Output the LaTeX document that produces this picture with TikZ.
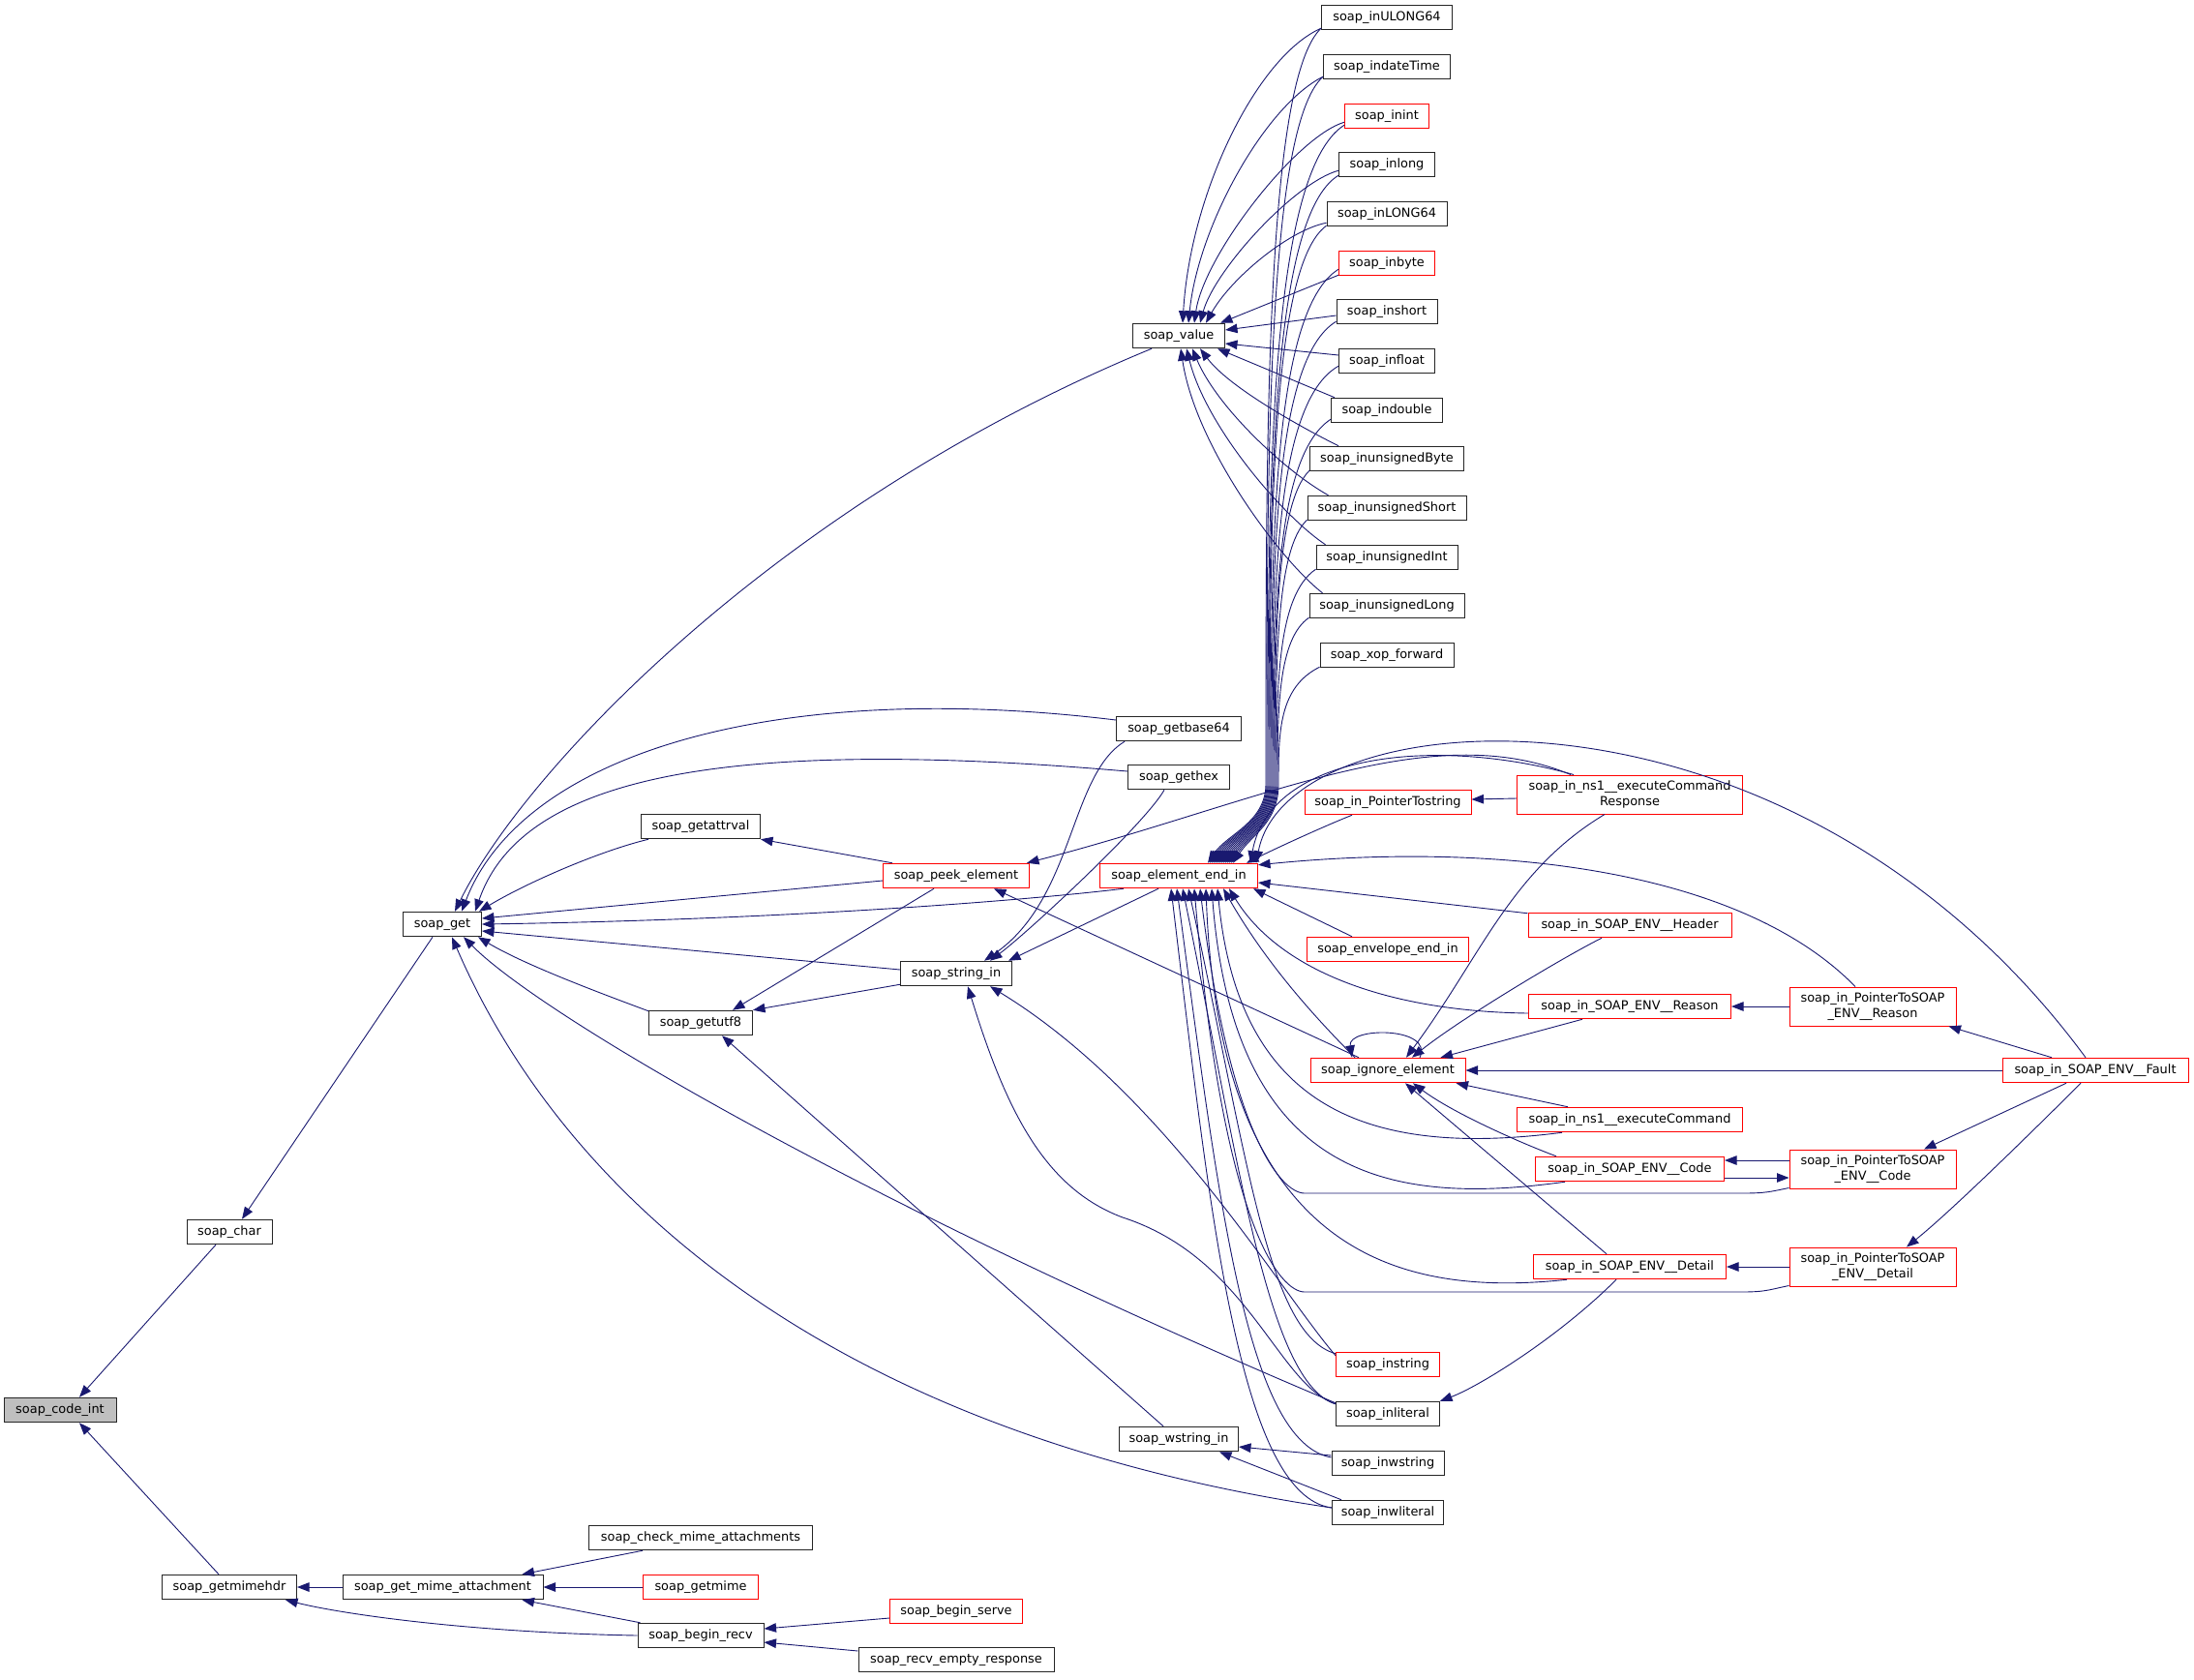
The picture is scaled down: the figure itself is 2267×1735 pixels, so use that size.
\documentclass[tikz,border=0pt]{standalone}
\usepackage{fontspec}
\setmainfont{DejaVu Sans}
\usetikzlibrary{arrows.meta}
\definecolor{mb}{HTML}{191970}
\definecolor{rootgray}{HTML}{BFBFBF}
\begin{document}
\begin{tikzpicture}[x=1pt,y=-1pt,
  bx/.style={draw=black!85,line width=1pt,fill=white,rectangle,inner sep=0pt,minimum height=25.5pt,font=\fontsize{12.9pt}{15.3pt}\selectfont,align=center},
  rx/.style={bx,draw=red},
  rootbx/.style={bx,fill=rootgray},
  ed/.style={draw=mb,line width=0.9pt,<-,>={Triangle[length=12.5pt,width=9.5pt]}}]
\fill[white] (0,0) rectangle (2267,1735);
\useasboundingbox (0,0) rectangle (2267,1735);
% nodes
\node[rootbx,minimum width=116pt] (codeint) at (62,1457) {soap\_code\_int};
\node[bx,minimum width=88pt] (char) at (237,1273) {soap\_char};
\node[bx,minimum width=139pt] (getmimehdr) at (237,1640) {soap\_getmimehdr};
\node[bx,minimum width=207pt] (getmimeatt) at (457.5,1640) {soap\_get\_mime\_attachment};
\node[bx,minimum width=231pt] (checkmime) at (724,1589) {soap\_check\_mime\_attachments};
\node[rx,minimum width=119pt] (getmime) at (724,1640) {soap\_getmime};
\node[bx,minimum width=130pt] (beginrecv) at (724,1690) {soap\_begin\_recv};
\node[rx,minimum width=137pt] (beginserve) at (988,1665) {soap\_begin\_serve};
\node[bx,minimum width=202pt] (recvempty) at (988,1715) {soap\_recv\_empty\_response};
\node[bx,minimum width=81pt] (get) at (457,955) {soap\_get};
\node[bx,minimum width=123pt] (getattrval) at (724,854) {soap\_getattrval};
\node[bx,minimum width=107pt] (getutf8) at (724,1057) {soap\_getutf8};
\node[rx,minimum width=151pt] (peek) at (988,905) {soap\_peek\_element};
\node[rx,minimum width=163pt] (eei) at (1218,905) {soap\_element\_end\_in};
\node[bx,minimum width=105pt] (gethex) at (1218,803) {soap\_gethex};
\node[bx,minimum width=115pt] (stringin) at (988,1006) {soap\_string\_in};
\node[bx,minimum width=129pt] (getbase64) at (1218,753) {soap\_getbase64};
\node[bx,minimum width=95pt] (value) at (1218,347) {soap\_value};
\node[bx,minimum width=135pt] (inULONG64) at (1433,18) {soap\_inULONG64};
\node[bx,minimum width=131pt] (indateTime) at (1433,69) {soap\_indateTime};
\node[rx,minimum width=87pt] (inint) at (1433,120) {soap\_inint};
\node[bx,minimum width=99pt] (inlong) at (1433,170) {soap\_inlong};
\node[bx,minimum width=124pt] (inLONG64) at (1433,221) {soap\_inLONG64};
\node[rx,minimum width=99pt] (inbyte) at (1433,272) {soap\_inbyte};
\node[bx,minimum width=104pt] (inshort) at (1433,322) {soap\_inshort};
\node[bx,minimum width=99pt] (infloat) at (1433,373) {soap\_infloat};
\node[bx,minimum width=115pt] (indouble) at (1433,424) {soap\_indouble};
\node[bx,minimum width=159pt] (inuByte) at (1433,474) {soap\_inunsignedByte};
\node[bx,minimum width=164pt] (inuShort) at (1433,525) {soap\_inunsignedShort};
\node[bx,minimum width=146pt] (inuInt) at (1433,576) {soap\_inunsignedInt};
\node[bx,minimum width=160pt] (inuLong) at (1433,626) {soap\_inunsignedLong};
\node[bx,minimum width=138pt] (xop) at (1433,677) {soap\_xop\_forward};
\node[rx,minimum width=172pt] (ptrstring) at (1434,829) {soap\_in\_PointerTostring};
\node[rx,minimum width=233pt,minimum height=40pt] (ns1resp) at (1684,821) {soap\_in\_ns1\_\_executeCommand\\Response};
\node[rx,minimum width=210pt] (header) at (1684,956) {soap\_in\_SOAP\_ENV\_\_Header};
\node[rx,minimum width=167pt] (envend) at (1434,981) {soap\_envelope\_end\_in};
\node[rx,minimum width=209pt] (reason) at (1684,1040) {soap\_in\_SOAP\_ENV\_\_Reason};
\node[rx,minimum width=160pt] (ignore) at (1434,1106) {soap\_ignore\_element};
\node[rx,minimum width=233pt] (ns1cmd) at (1684,1157) {soap\_in\_ns1\_\_executeCommand};
\node[rx,minimum width=195pt] (code) at (1684,1208) {soap\_in\_SOAP\_ENV\_\_Code};
\node[rx,minimum width=199pt] (detail) at (1684,1309) {soap\_in\_SOAP\_ENV\_\_Detail};
\node[rx,minimum width=107pt] (instring) at (1434,1410) {soap\_instring};
\node[bx,minimum width=107pt] (inliteral) at (1434,1461) {soap\_inliteral};
\node[bx,minimum width=123pt] (wstringin) at (1218,1487) {soap\_wstring\_in};
\node[bx,minimum width=116pt] (inwstring) at (1434,1512) {soap\_inwstring};
\node[bx,minimum width=115pt] (inwliteral) at (1434,1563) {soap\_inwliteral};
\node[rx,minimum width=172pt,minimum height=40pt] (pReason) at (1935,1040) {soap\_in\_PointerToSOAP\\\_ENV\_\_Reason};
\node[rx,minimum width=192pt] (fault) at (2165,1106) {soap\_in\_SOAP\_ENV\_\_Fault};
\node[rx,minimum width=172pt,minimum height=40pt] (pCode) at (1935,1208) {soap\_in\_PointerToSOAP\\\_ENV\_\_Code};
\node[rx,minimum width=172pt,minimum height=40pt] (pDetail) at (1935,1309) {soap\_in\_PointerToSOAP\\\_ENV\_\_Detail};
% left part
\draw[ed] ([xshift=20pt]codeint.north) -- ([xshift=-14pt]char.south);
\draw[ed] ([xshift=20pt]codeint.south) -- ([xshift=-11pt]getmimehdr.north);
\draw[ed] ([xshift=13pt]char.north) -- ([xshift=-10pt]get.south);
\draw[ed] (getmimehdr.east) -- (getmimeatt.west);
\draw[ed] ([xshift=-12pt]getmimehdr.south east) .. controls +(60,15) and +(-170,-3) .. (beginrecv.west);
\draw[ed] ([xshift=-22pt]getmimeatt.north east) -- ([xshift=-60pt]checkmime.south);
\draw[ed] (getmimeatt.east) -- (getmime.west);
\draw[ed] ([xshift=-22pt]getmimeatt.south east) -- ([xshift=3pt]beginrecv.north west);
\draw[ed] ([yshift=7pt]beginrecv.east) -- ([yshift=-7pt]beginserve.west);
\draw[ed] ([yshift=-7pt]beginrecv.east) -- ([yshift=9pt]recvempty.west);
% soap_get callers
\draw[ed] ([xshift=13pt]get.north) .. controls +(70,-142.5) and +(-390,160.5) .. ([xshift=-28pt]value.south);
\draw[ed] ([xshift=20pt]get.north) .. controls +(63,-162.5) and +(-354,-43) .. ([yshift=9pt]getbase64.west);
\draw[ed] ([xshift=-7pt]get.north east) .. controls +(49,-142.5) and +(-406,-35) .. ([yshift=6pt]gethex.west);
\draw[ed] ([xshift=-3pt]get.north east) .. controls +(50,-30) and +(-50,12) .. ([xshift=8pt]getattrval.south west);
\draw[ed] ([yshift=6pt]get.east) -- ([yshift=-5pt]peek.west);
\draw[ed] (get.east) .. controls +(320,-5) and +(-100,12) .. ([xshift=25pt]eei.south west);
\draw[ed] ([yshift=-7pt]get.east) -- ([yshift=4pt]stringin.west);
\draw[ed] ([xshift=-4pt]get.south east) .. controls +(50,30) and +(-40,-15) .. ([yshift=-1pt]getutf8.north west);
\draw[ed] ([xshift=22pt]get.south) .. controls +(81,82) and +(-480,-202) .. ([yshift=-2pt]inliteral.north west);
\draw[ed] ([xshift=10pt]get.south) .. controls +(113,262) and +(-526,-78) .. ([yshift=5pt]inwliteral.west);
% getutf8, getattrval
\draw[ed] ([xshift=33pt]getutf8.north) -- ([xshift=-23pt]peek.south);
\draw[ed] (getutf8.north east) -- ([yshift=2pt]stringin.south west);
\draw[ed] ([xshift=22pt]getutf8.south) -- ([xshift=-16pt]wstringin.north);
\draw[ed] (getattrval.south east) -- ([xshift=10pt]peek.north west);
% string_in
\draw[ed] ([xshift=-4pt]stringin.north east) -- ([xshift=-21pt]eei.south);
\draw[ed] ([xshift=35pt]stringin.north) .. controls +(40,-30) and +(-20,35) .. ([xshift=-15pt]gethex.south);
\draw[ed] ([xshift=29pt]stringin.north) .. controls +(93,-63.5) and +(-57,34.5) .. ([xshift=-56pt]getbase64.south);
\draw[ed] ([xshift=35pt]stringin.south) .. controls +(180,110) and +(-60,-70) .. ([yshift=-4pt]instring.north west);
\draw[ed] ([xshift=12pt]stringin.south) .. controls +(40,130) and +(-80,-30) .. (1160,1258) .. controls +(130,42) and +(-60,-20) .. ([yshift=-3pt]inliteral.north west);
% wstring_in
\draw[ed] ([yshift=-8pt]wstringin.east) -- ([yshift=8pt]inwstring.west);
\draw[ed] ([xshift=42pt]wstringin.south) -- ([xshift=10pt]inwliteral.north west);
% soap_value callers
\draw[ed] ([xshift=4pt]value.north) .. controls +(8,-135) and +(-66,29) .. ([yshift=2pt]inULONG64.south west);
\draw[ed] ([xshift=10pt]value.north) .. controls +(10,-100) and +(-60,30) .. ([yshift=3pt]indateTime.south west);
\draw[ed] ([xshift=16pt]value.north) .. controls +(10,-70) and +(-50,15) .. ([yshift=7pt]inint.south west);
\draw[ed] ([xshift=22pt]value.north) .. controls +(15,-55) and +(-45,12) .. ([yshift=7pt]inlong.south west);
\draw[ed] ([xshift=28pt]value.north) .. controls +(25,-45) and +(-40,8) .. ([yshift=4pt]inLONG64.south west);
\draw[ed] ([xshift=-5pt]value.north east) -- ([yshift=1pt]inbyte.south west);
\draw[ed] ([yshift=6pt]value.east) -- ([yshift=-4pt]inshort.west);
\draw[ed] ([yshift=-8pt]value.east) -- ([yshift=6pt]infloat.west);
\draw[ed] ([xshift=-8pt]value.south east) -- ([xshift=4pt]indouble.north west);
\draw[ed] ([xshift=22pt]value.south) .. controls +(30,40) and +(-40,-20) .. ([xshift=30pt]inuByte.north west);
\draw[ed] ([xshift=14pt]value.south) .. controls +(25,60) and +(-45,-25) .. ([xshift=22pt]inuShort.north west);
\draw[ed] ([xshift=8pt]value.south) .. controls +(20,80) and +(-45,-30) .. ([xshift=10pt]inuInt.north west);
\draw[ed] ([xshift=2pt]value.south) .. controls +(15,100) and +(-45,-35) .. ([xshift=14pt]inuLong.north west);
% soap_element_end_in callers (right column bundle)
\draw[ed] ([xshift=30pt]eei.north) .. controls +(20,-30) and +(0,40) .. (1308,810) .. controls +(0,-351) and +(-58,55) .. ([yshift=2pt]inULONG64.south west);
\draw[ed] ([xshift=32pt]eei.north) .. controls +(20,-30) and +(0,40) .. (1309,810) .. controls +(0,-329) and +(-58,52) .. ([yshift=3pt]indateTime.south west);
\draw[ed] ([xshift=34pt]eei.north) .. controls +(20,-30) and +(0,40) .. (1310,810) .. controls +(0,-307) and +(-78,50) .. ([yshift=4pt]inint.south west);
\draw[ed] ([xshift=36pt]eei.north) .. controls +(20,-30) and +(0,40) .. (1311,810) .. controls +(0,-283) and +(-71,43) .. ([yshift=2pt]inlong.south west);
\draw[ed] ([xshift=38pt]eei.north) .. controls +(20,-30) and +(0,40) .. (1312,810) .. controls +(0,-260) and +(-58,42) .. ([yshift=1pt]inLONG64.south west);
\draw[ed] ([xshift=40pt]eei.north) .. controls +(20,-30) and +(0,40) .. (1313,810) .. controls +(0,-240) and +(-69,43) .. ([yshift=7pt]inbyte.south west);
\draw[ed] ([xshift=42pt]eei.north) .. controls +(20,-30) and +(0,40) .. (1314,810) .. controls +(0,-215) and +(-66,40) .. ([yshift=3pt]inshort.south west);
\draw[ed] ([xshift=44pt]eei.north) .. controls +(20,-30) and +(0,40) .. (1315,810) .. controls +(0,-195) and +(-67,38) .. ([yshift=8pt]infloat.south west);
\draw[ed] ([xshift=46pt]eei.north) .. controls +(20,-30) and +(0,40) .. (1316,810) .. controls +(0,-170) and +(-58,38) .. ([yshift=4pt]indouble.south west);
\draw[ed] ([xshift=48pt]eei.north) .. controls +(20,-30) and +(0,40) .. (1317,810) .. controls +(0,-146) and +(-35,34) .. ([yshift=1pt]inuByte.south west);
\draw[ed] ([xshift=50pt]eei.north) .. controls +(20,-30) and +(0,40) .. (1318,810) .. controls +(0,-123) and +(-32,30) .. ([yshift=1pt]inuShort.south west);
\draw[ed] ([xshift=52pt]eei.north) .. controls +(20,-30) and +(0,40) .. (1319,810) .. controls +(0,-100) and +(-40,27) .. ([yshift=1pt]inuInt.south west);
\draw[ed] ([xshift=54pt]eei.north) .. controls +(20,-30) and +(0,40) .. (1320,810) .. controls +(0,-77) and +(-32,22) .. ([yshift=1pt]inuLong.south west);
\draw[ed] ([xshift=56pt]eei.north) .. controls +(20,-30) and +(0,40) .. (1321,810) .. controls +(0,-54) and +(-42,21) .. ([yshift=1pt]xop.south west);
% other soap_element_end_in callers
\draw[ed] ([xshift=-12pt]eei.north east) .. controls +(30,-15) and +(-30,12) .. ([xshift=-37pt]ptrstring.south);
\draw[ed] ([xshift=-8pt]eei.north east) .. controls +(20,-112) and +(-146,-41) .. ([xshift=-58pt]ns1resp.north);
\draw[ed] ([xshift=-3pt]peek.north east) .. controls +(240,-62) and +(-146,-61) .. ([xshift=-61pt]ns1resp.north);
\draw[ed] ([xshift=-2pt]eei.north east) .. controls +(32.5,-172.5) and +(-305,-414) .. ([xshift=-10pt]fault.north);
\draw[ed] ([yshift=-2pt]eei.north east) .. controls +(250,-25) and +(-117,-120) .. ([xshift=-18pt]pReason.north);
\draw[ed] ([yshift=-7pt]eei.east) -- ([yshift=-1pt]header.north west);
\draw[ed] ([xshift=-5pt]eei.south east) -- ([xshift=-37pt]envend.north);
\draw[ed] ([xshift=-30pt]eei.south east) .. controls +(50.5,82.5) and +(-150,-2) .. ([yshift=-7pt]reason.west);
\draw[ed] ([xshift=-36pt]eei.south east) .. controls +(40,70) and +(-50,-50) .. ([xshift=-34pt]ignore.north);
\draw[ed] ([xshift=-42pt]eei.south east) .. controls +(22.5,232.5) and +(-194,25) .. ([xshift=-70pt]ns1cmd.south);
\draw[ed] ([xshift=-48pt]eei.south east) .. controls +(23.5,302.5) and +(-177,24.5) .. ([xshift=-67pt]code.south);
\draw[ed] ([xshift=-54pt]eei.south east) .. controls +(14.5,382.5) and +(-169,18) .. ([xshift=-65pt]detail.south);
\draw[ed] ([xshift=-60pt]eei.south east) .. controls +(30,250) and +(-25,0) .. (1348,1233) -- (1800,1233) .. controls +(25,0) and +(-20,4) .. ([yshift=1pt]pCode.south west);
\draw[ed] ([xshift=-66pt]eei.south east) .. controls +(30,350) and +(-25,0) .. (1348,1335) -- (1800,1335) .. controls +(25,0) and +(-20,4) .. ([yshift=1pt]pDetail.south west);
\draw[ed] ([xshift=10pt]eei.south) .. controls +(62,282.5) and +(-70,-20) .. ([yshift=-2pt]instring.north west);
\draw[ed] ([xshift=4pt]eei.south) .. controls +(58,282.5) and +(-70,-21.5) .. ([yshift=-3pt]inliteral.north west);
\draw[ed] ([xshift=-2pt]eei.south) .. controls +(44,332.5) and +(-86,-16) .. ([yshift=6pt]inwstring.west);
\draw[ed] ([xshift=-8pt]eei.south) .. controls +(40,332.5) and +(-96,-13) .. ([yshift=5pt]inwliteral.west);
% right part
\draw[ed] ([yshift=3pt]ptrstring.east) -- ([yshift=-4pt]ns1resp.west);
\draw[ed] (reason.east) -- (pReason.west);
\draw[ed] ([xshift=-8pt]pReason.south east) -- ([xshift=-45pt]fault.north);
\draw[ed] (ignore.east) -- (fault.west);
\draw[ed] ([xshift=53pt]pCode.north) -- ([xshift=-30pt]fault.south);
\draw[ed] ([xshift=35pt]pDetail.north) .. controls +(50,-40) and +(-30,30) .. ([xshift=-15pt]fault.south);
\draw[ed] ([yshift=9pt]code.east) -- ([yshift=9pt]pCode.west);
\draw[ed] ([yshift=-9pt]pCode.west) -- ([yshift=-9pt]code.east);
\draw[ed] (detail.east) -- (pDetail.west);
\draw[ed] (inliteral.north east) .. controls +(40,-15) and +(-60,60) .. ([xshift=-14pt]detail.south);
% soap_ignore_element callers
\draw[ed] ([xshift=-37pt]ignore.north) .. controls +(-5,-32) and +(15,-32) .. ([xshift=33pt]ignore.north);
\draw[ed] ([xshift=19pt]ignore.north) .. controls +(77,-103.5) and +(-98,59) .. ([xshift=-26pt]ns1resp.south);
\draw[ed] ([xshift=25pt]ignore.north) .. controls +(50,-40) and +(-40,20) .. ([xshift=-29pt]header.south);
\draw[ed] ([xshift=-26pt]ignore.north east) -- ([xshift=-49pt]reason.south);
\draw[ed] ([xshift=-10pt]ignore.south east) -- ([xshift=-64pt]ns1cmd.north);
\draw[ed] ([xshift=26pt]ignore.south) .. controls +(40,30) and +(-40,-15) .. ([xshift=-76pt]code.north);
\draw[ed] ([xshift=18pt]ignore.south) -- ([xshift=-24pt]detail.north);
\draw[ed] ([xshift=39pt]peek.south) -- ([xshift=-30pt]ignore.north);
\end{tikzpicture}
\end{document}
